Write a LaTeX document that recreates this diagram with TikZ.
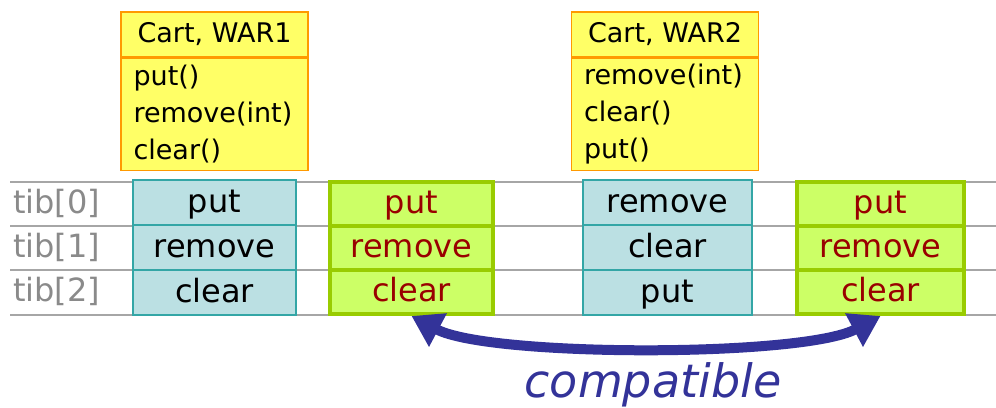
\documentclass[tikz,border=0pt]{standalone}
\usepackage{fontspec}
\setmainfont{DejaVu Sans}
\usetikzlibrary{arrows.meta,positioning}

\definecolor{umlfill}{HTML}{FFFF66}
\definecolor{umledge}{HTML}{FF9900}
\definecolor{tibfill}{HTML}{BBE0E3}
\definecolor{tibedge}{HTML}{33A6A6}
\definecolor{okfill}{HTML}{CCFF66}
\definecolor{okedge}{HTML}{99CC00}
\definecolor{okred}{HTML}{990000}
\definecolor{compatblue}{HTML}{333399}
\definecolor{rulegray}{HTML}{A6A6A6}
\definecolor{tibgray}{HTML}{8A8A8A}

\tikzset{
  cell/.style={rectangle, inner sep=0pt, text height=24pt, text depth=5pt,
    font=\fontsize{32pt}{36pt}\selectfont},
  bluecell/.style={cell, minimum height=45pt, fill=tibfill, draw=tibedge, line width=1.2pt},
  greencell/.style={cell, minimum height=44pt, fill=okfill, draw=okedge, line width=4pt, text=okred},
  umlhead/.style={rectangle, fill=umlfill, draw=umledge, line width=1.2pt,
    minimum width=187pt, minimum height=45pt, inner sep=0pt,
    font=\fontsize{27pt}{37pt}\selectfont},
  umlbody/.style={umlhead, minimum height=112pt, text width=162pt,
    inner xsep=12.5pt, align=left},
  tiblabel/.style={anchor=west, inner sep=0pt, text=tibgray, text height=24pt,
    text depth=5pt, font=\fontsize{32pt}{36pt}\selectfont},
  compatarrow/.style={draw=compatblue, line width=10pt,
    arrows={Triangle[length=30pt,width=36pt]-Triangle[length=30pt,width=36pt]}},
}

\begin{document}
\begin{tikzpicture}[x=1pt,y=1pt]
\useasboundingbox (0,0) rectangle (996,-407);

% table rules
\foreach \y in {182,226,270,315}
  \draw[rulegray, line width=1.5pt] (10,-\y) -- (996,-\y);

\foreach \n in {0,1,2}
  \node[tiblabel] (tib\n) at (13,-204-44*\n) {tib[\n]};

% the two carts
\node[umlhead] (cart1) at (214.5,-34.5) {Cart, WAR1};
\node[umlbody, below=0pt of cart1] (ops1) {put()\\remove(int)\\clear()};
\node[umlhead] (cart2) at (665,-34.5) {Cart, WAR2};
\node[umlbody, below=0pt of cart2] (ops2) {remove(int)\\clear()\\put()};

% method tables
\foreach \op [count=\i from 0] in {put,remove,clear}
  \node[bluecell, minimum width=163pt] (war1r\i) at (214.5,-202.5-45*\i) {\op};
\foreach \op [count=\i from 0] in {remove,clear,put}
  \node[bluecell, minimum width=169pt] (war2r\i) at (667.5,-202.5-45*\i) {\op};
\foreach \op [count=\i from 0] in {put,remove,clear} {
  \node[greencell, minimum width=163pt] (ok1r\i) at (411.5,-204-44*\i) {\op};
  \node[greencell, minimum width=167pt] (ok2r\i) at (880.5,-204-44*\i) {\op};
}

\draw[compatarrow] (ok1r2.south) .. controls +(-28:88) and +(-152:88) .. (ok2r2.south);
\node[anchor=base, text=compatblue, font=\fontsize{46pt}{50pt}\selectfont\itshape]
  (compat) at (653,-397) {compatible};
\end{tikzpicture}
\end{document}
